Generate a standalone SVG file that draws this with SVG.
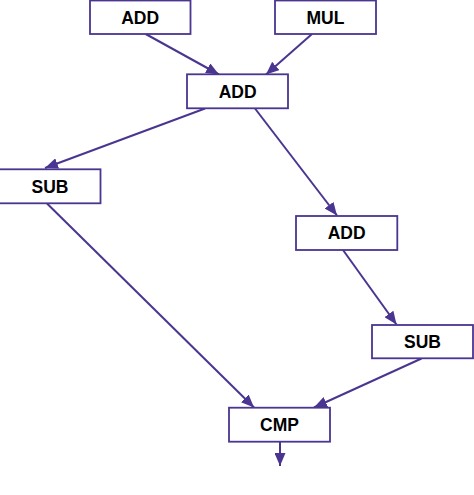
<svg xmlns="http://www.w3.org/2000/svg" width="474" height="495" viewBox="0 0 474 495">
<style>
.box{fill:#ffffff;stroke:#4a3590;stroke-width:1.8}
.lbl{font-family:"Liberation Sans",Arial,sans-serif;font-size:17.5px;font-weight:bold;fill:#000000;text-anchor:middle}
.edge{stroke:#4a3590;stroke-width:2;fill:none;marker-end:url(#arr)}
</style>
<defs>
<marker id="arr" markerUnits="userSpaceOnUse" markerWidth="13" markerHeight="11" refX="13" refY="5.5" orient="auto">
<path d="M0,0 L13,5.5 L0,11 z" fill="#4a3590"/>
</marker>
</defs>
<rect width="474" height="495" fill="#ffffff"/>
<g id="connectors">
<line class="edge" x1="145.7" y1="34" x2="219" y2="74.5"/>
<line class="edge" x1="312" y1="34" x2="266" y2="74.5"/>
<line class="edge" x1="205" y1="108.5" x2="45" y2="168"/>
<line class="edge" x1="255" y1="108.5" x2="337" y2="215.5"/>
<line class="edge" x1="47" y1="203.5" x2="254" y2="407.5"/>
<line class="edge" x1="343" y1="250" x2="396.5" y2="324.5"/>
<line class="edge" x1="421.5" y1="358.5" x2="314" y2="407.5"/>
<line class="edge" x1="280" y1="442" x2="280" y2="466"/>
</g>
<g id="add1"><rect class="box" x="90" y="0.5" width="100.5" height="33.5"/><text class="lbl" x="140.2" y="23.7">ADD</text></g>
<g id="mul"><rect class="box" x="275" y="0.5" width="101" height="33.5"/><text class="lbl" x="325.5" y="23.7">MUL</text></g>
<g id="add2"><rect class="box" x="187" y="74.3" width="101" height="34"/><text class="lbl" x="237.7" y="97.6">ADD</text></g>
<g id="sub1"><rect class="box" x="-1" y="169.3" width="101.5" height="34"/><text class="lbl" x="50" y="192.6">SUB</text></g>
<g id="add3"><rect class="box" x="296" y="216" width="101.3" height="34"/><text class="lbl" x="346.6" y="239.3">ADD</text></g>
<g id="sub2"><rect class="box" x="372" y="325" width="101" height="33.3"/><text class="lbl" x="422.5" y="348.2">SUB</text></g>
<g id="cmp"><rect class="box" x="229" y="407.7" width="101" height="34"/><text class="lbl" x="279.5" y="431">CMP</text></g>
</svg>
